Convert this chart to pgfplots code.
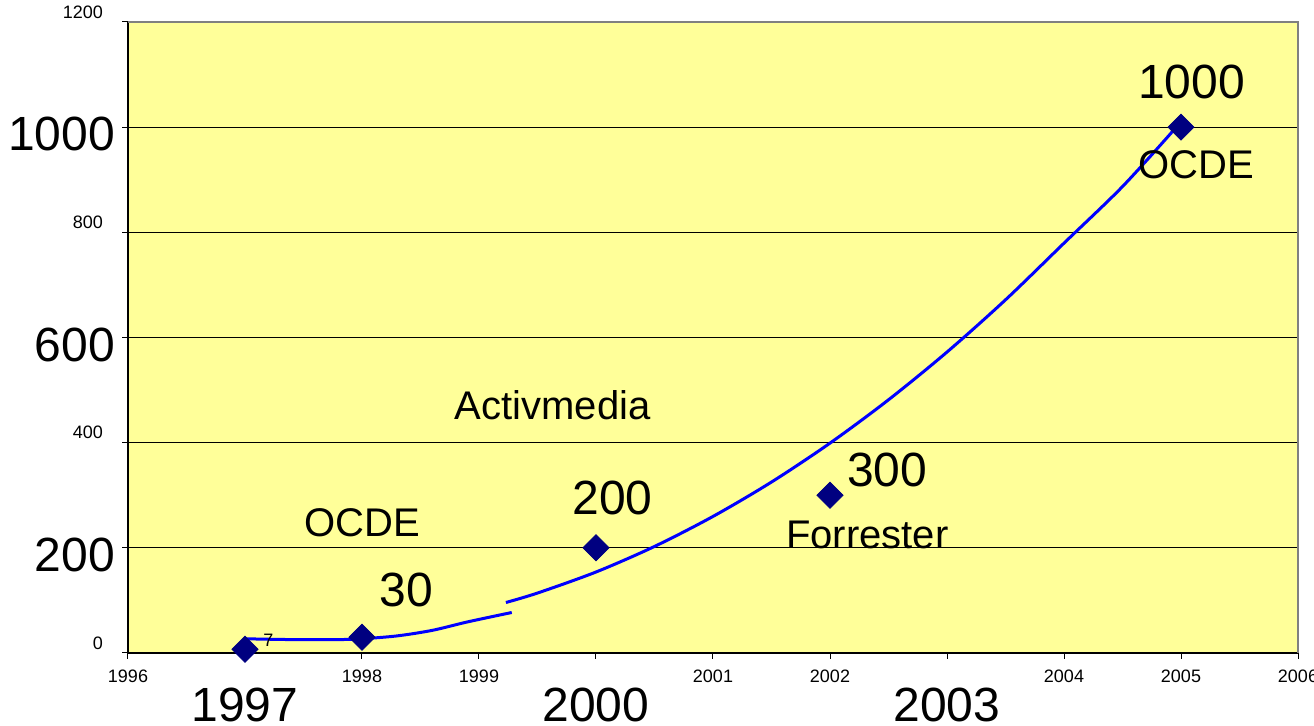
\documentclass[border=0pt]{standalone}
\usepackage{fontspec}
\setmainfont{Liberation Sans}
\usepackage{pgfplots}
\pgfplotsset{compat=1.18}
\definecolor{bgyellow}{HTML}{FFFF99}
\definecolor{navy}{HTML}{000080}
\definecolor{trend}{HTML}{0000FF}
\begin{document}
\begin{tikzpicture}
\begin{axis}[
 scale only axis, width=585pt, height=315.5pt,
 xmin=1996, xmax=2006, ymin=0, ymax=1200,
 axis lines*=left,
 axis line style={black, line width=0.7pt},
 axis background/.style={fill=bgyellow},
 xtick={1996,1998,1999,2001,2002,2004,2005,2006},
 ytick={0,400,800,1200},
 extra x ticks={1997,2000,2003},
 extra y ticks={200,600,1000},
 /pgf/number format/assume math mode=true,
 /pgf/number format/1000 sep={},
 tick align=outside, major tick length=3pt,
 tick style={black, line width=0.5pt},
 ymajorgrids, grid style={black, line width=0.5pt},
 xticklabel style={font=\fontsize{9}{10}\selectfont, yshift=-2pt},
 yticklabel style={font=\fontsize{9}{10}\selectfont, xshift=-6pt, yshift=5pt},
 extra x tick style={xticklabel style={font=\fontsize{24}{28}\selectfont, yshift=-9pt}},
 extra y tick style={grid=major, yticklabel style={font=\fontsize{24}{28}\selectfont, xshift=6pt, yshift=-8.5pt}},
 clip=false,
]
\addplot[only marks, mark=square*, mark size=4.6pt, mark options={rotate=45, fill=navy, draw=navy}]
 coordinates {(1997,7) (1998,30) (2000,200) (2002,300) (2005,1000)};
\addplot[trend, line width=1.5pt, smooth, no marks] coordinates {
 (1997,27) (1997.4,25.5) (1997.8,25.5) (1998,27) (1998.3,32.5) (1998.6,43) (1998.9,59) (1999.28,77)};
\addplot[trend, line width=1.5pt, smooth, no marks] coordinates {
 (1999.23,96) (1999.5,114) (2000,154) (2000.5,202.6) (2001,259.7) (2001.5,325.1) (2002,399.1)
 (2002.5,481.5) (2003,572.3) (2003.5,671.6) (2004,779.4) (2004.5,887) (2004.96,1000)};
\draw[gray, line width=0.7pt] (rel axis cs:0,1) -- (rel axis cs:1,1) -- (rel axis cs:1,0);
\node[font=\fontsize{24}{28}\selectfont] at (axis cs:2005.09,1086) {1000};
\node[font=\fontsize{20}{24}\selectfont] at (axis cs:2005.13,928) {OCDE};
\node[font=\fontsize{20}{24}\selectfont] at (axis cs:1999.63,472) {Activmedia};
\node[font=\fontsize{24}{28}\selectfont] at (axis cs:2000.14,295) {200};
\node[font=\fontsize{24}{28}\selectfont] at (axis cs:2002.49,348) {300};
\node[font=\fontsize{20}{24}\selectfont] at (axis cs:2002.32,224) {Forrester};
\node[font=\fontsize{20}{24}\selectfont] at (axis cs:1998.0,247) {OCDE};
\node[font=\fontsize{24}{28}\selectfont] at (axis cs:1998.38,120) {30};
\node[font=\fontsize{9}{10}\selectfont] at (axis cs:1997.2,25) {7};
\end{axis}
\pgfresetboundingbox
\path[use as bounding box] (-64pt,-36.5pt) rectangle (593pt,326.5pt);
\end{tikzpicture}
\end{document}
